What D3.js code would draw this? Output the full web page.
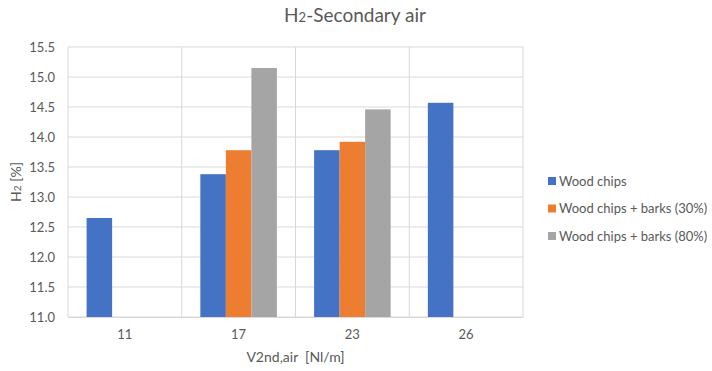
<!DOCTYPE html>
<html>
<head>
<meta charset="utf-8">
<script src="https://cdn.jsdelivr.net/npm/d3@7"></script>
<style>
  body { margin: 0; background: #fff; }
  svg text { font-family: Lato, "Open Sans", sans-serif; fill: #595959; }
</style>
</head>
<body>
<div id="chart"></div>
<script>
// data
const categories = ['11', '17', '23', '26'];
const seriesNames = ['Wood chips', 'Wood chips + barks (30%)', 'Wood chips + barks (80%)'];
const woodChips = [12.65, 13.38, 13.78, 14.57];
const barks30 = [null, 13.78, 13.92, null];
const barks80 = [null, 15.15, 14.46, null];
const yTicks = [11.0, 11.5, 12.0, 12.5, 13.0, 13.5, 14.0, 14.5, 15.0, 15.5];
const colors = ['#4472C4', '#ED7D31', '#A5A5A5'];

const series = [woodChips, barks30, barks80];

const width = 712, height = 371;
const margin = { top: 47, right: 189, bottom: 54, left: 68 };
const w = width - margin.left - margin.right;
const h = height - margin.top - margin.bottom;

const svg = d3.select('#chart').append('svg')
  .attr('width', width)
  .attr('height', height);

const g = svg.append('g').attr('transform', `translate(${margin.left},${margin.top})`);

const x0 = d3.scaleBand().domain(categories).range([0, w]).padding(0);
const groupW = x0.bandwidth() * 0.673;
const x1 = d3.scaleBand().domain(d3.range(series.length)).range([0, groupW]).padding(0);
const y = d3.scaleLinear().domain([11, 15.5]).range([h, 0]);

// horizontal grid
g.selectAll('.hgrid').data(yTicks).enter().append('line')
  .attr('x1', 0).attr('x2', w)
  .attr('y1', d => y(d)).attr('y2', d => y(d))
  .attr('stroke', '#d9d9d9').attr('stroke-width', 1);

// vertical grid at category boundaries
const bounds = categories.map(c => x0(c)).concat([w]);
g.selectAll('.vgrid').data(bounds).enter().append('line')
  .attr('x1', d => d).attr('x2', d => d)
  .attr('y1', 0).attr('y2', h)
  .attr('stroke', '#d9d9d9').attr('stroke-width', 1);

// bars
const groups = g.selectAll('.grp').data(categories).enter().append('g')
  .attr('transform', c => `translate(${x0(c) + (x0.bandwidth() - groupW) / 2},0)`);

groups.selectAll('rect')
  .data((c, ci) => series.map((s, si) => ({ si: si, v: s[ci] })).filter(d => d.v != null))
  .enter().append('rect')
  .attr('x', d => x1(d.si))
  .attr('width', x1.bandwidth())
  .attr('y', d => y(d.v))
  .attr('height', d => h - y(d.v))
  .attr('fill', d => colors[d.si]);

// y axis
const yAxis = d3.axisLeft(y).tickValues(yTicks).tickFormat(d3.format('.1f')).tickSize(0).tickPadding(13);
const gy = g.append('g').call(yAxis);
gy.select('.domain').remove();
gy.selectAll('text').style('font-size', '13px').attr('fill', '#595959');

// x axis
const xAxis = d3.axisBottom(x0).tickSize(0).tickPadding(13);
const gx = g.append('g').attr('transform', `translate(0,${h})`).call(xAxis);
gx.select('.domain').attr('stroke', '#d9d9d9');
gx.selectAll('text').style('font-size', '13px').attr('fill', '#595959');

// title
const title = svg.append('text')
  .attr('x', 355).attr('y', 22)
  .attr('text-anchor', 'middle')
  .style('font-size', '19px');
title.append('tspan').text('H');
title.append('tspan').style('font-size', '13px').text('2');
title.append('tspan').text('-Secondary air');

// axis titles
svg.append('text')
  .attr('x', margin.left + w / 2).attr('y', 362)
  .attr('text-anchor', 'middle')
  .style('font-size', '14px')
  .text('V2nd,air  [Nl/m]')
  .attr('xml:space', 'preserve');

const yl = svg.append('text')
  .attr('transform', `translate(21,${margin.top + h / 2}) rotate(-90)`)
  .attr('text-anchor', 'middle')
  .style('font-size', '14px');
yl.append('tspan').text('H');
yl.append('tspan').style('font-size', '10px').text('2');
yl.append('tspan').text(' [%]');

// legend
const legend = svg.append('g').attr('transform', 'translate(548,181)');
const item = legend.selectAll('g').data(seriesNames).enter().append('g')
  .attr('transform', (d, i) => `translate(0,${i * 27.5})`);
item.append('rect')
  .attr('x', 0).attr('y', -4).attr('width', 8).attr('height', 8)
  .attr('fill', (d, i) => colors[i]);
item.append('text')
  .attr('x', 11).attr('y', 0).attr('dy', '0.35em')
  .style('font-size', '13px')
  .text(d => d);
</script>
</body>
</html>
